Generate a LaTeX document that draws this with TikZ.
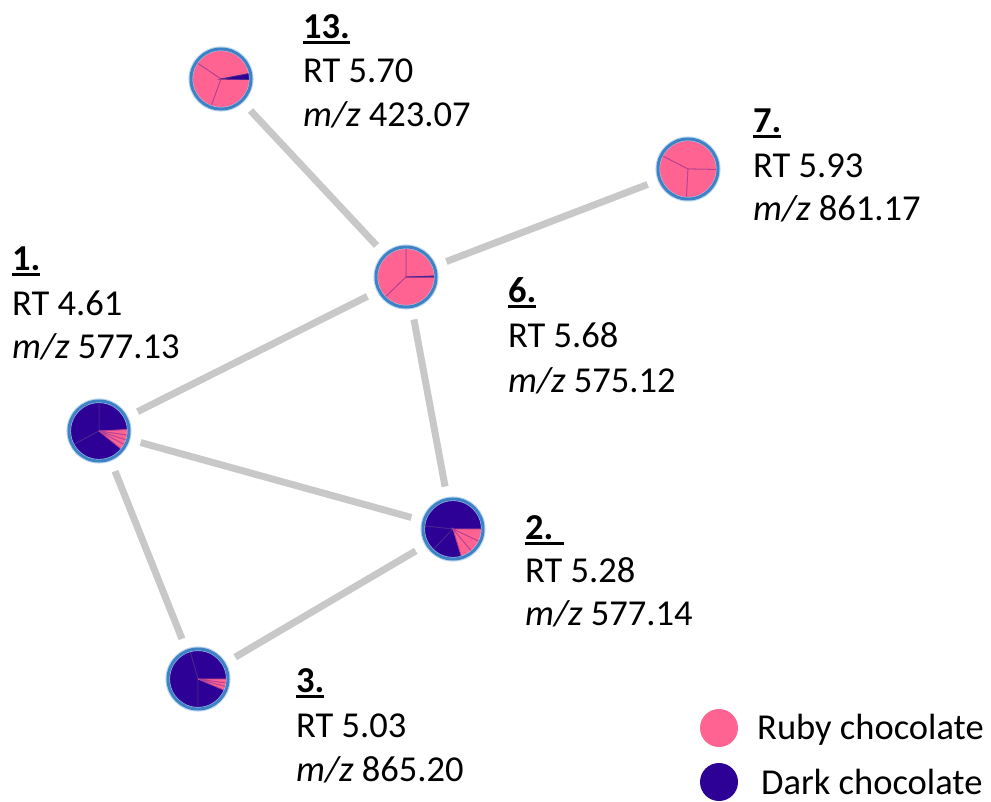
\documentclass[tikz,border=0pt]{standalone}
\usepackage{fontspec}
\setmainfont{Carlito}
\definecolor{ruby}{RGB}{255,99,146}
\definecolor{dark}{RGB}{45,0,150}
\definecolor{rim}{RGB}{62,130,198}
\definecolor{glow}{RGB}{185,212,238}
\definecolor{edgegray}{RGB}{200,200,200}
\newcommand\ulab[1]{\setbox0=\hbox{\textbf{#1}}\rlap{\rule[-6pt]{\wd0}{2.8pt}}\box0}
\newcommand\pieslice[5]{\filldraw[fill=#4, draw=#5, line width=0.8pt] (#1) -- ++(#2:29) arc[start angle=#2, end angle=#3, radius=29] -- cycle;}
\newcommand\pierim[1]{\draw[glow, line width=4.5pt] (#1) circle[radius=30.3];\draw[rim, line width=3pt] (#1) circle[radius=30];}
\begin{document}
\begin{tikzpicture}[x=1pt,y=1pt,
  pienode/.style={circle, minimum size=60pt, inner sep=0pt},
  edge/.style={draw=edgegray, line width=7pt, shorten <=13pt, shorten >=13pt},
  lab/.style={anchor=base west, inner sep=0pt, font=\fontsize{36.5}{44}\selectfont},
  legdot/.style={circle, minimum size=38pt, inner sep=0pt}]
\colorlet{rubyline}{ruby!65!dark}
\colorlet{darkline}{dark!70!gray}
\useasboundingbox (0,0) rectangle (991,-801);
% nodes
\node[pienode] (n13) at (221,-79) {};
\node[pienode] (n6) at (406,-277) {};
\node[pienode] (n7) at (688,-169) {};
\node[pienode] (n1) at (99,-431) {};
\node[pienode] (n2) at (453,-529) {};
\node[pienode] (n3) at (198,-679) {};
% edges
\draw[edge] (n13) -- (n6);
\draw[edge] (n6) -- (n7);
\draw[edge] (n6) -- (n1);
\draw[edge] (n6) -- (n2);
\draw[edge] (n1) -- (n2);
\draw[edge] (n1) -- (n3);
\draw[edge] (n3) -- (n2);
% pie 13
\pieslice{n13.center}{11}{146}{ruby}{rubyline}
\pieslice{n13.center}{146}{250}{ruby}{rubyline}
\pieslice{n13.center}{250}{359}{ruby}{rubyline}
\pieslice{n13.center}{-1}{11}{dark}{darkline}
\pierim{n13.center}
% pie 6
\pieslice{n6.center}{2}{90}{ruby}{rubyline}
\pieslice{n6.center}{90}{224}{ruby}{rubyline}
\pieslice{n6.center}{224}{360}{ruby}{rubyline}
\pieslice{n6.center}{0}{2}{dark}{darkline}
\pierim{n6.center}
% pie 7
\pieslice{n7.center}{-1}{153}{ruby}{rubyline}
\pieslice{n7.center}{153}{267}{ruby}{rubyline}
\pieslice{n7.center}{267}{359}{ruby}{rubyline}
\pierim{n7.center}
% pie 1
\pieslice{n1.center}{3}{90}{dark}{darkline}
\pieslice{n1.center}{90}{208}{dark}{darkline}
\pieslice{n1.center}{208}{321}{dark}{darkline}
\pieslice{n1.center}{321}{332}{ruby}{rubyline}
\pieslice{n1.center}{332}{342}{ruby}{rubyline}
\pieslice{n1.center}{342}{352}{ruby}{rubyline}
\pieslice{n1.center}{352}{363}{ruby}{rubyline}
\pierim{n1.center}
% pie 2
\pieslice{n2.center}{0}{174}{dark}{darkline}
\pieslice{n2.center}{174}{226}{dark}{darkline}
\pieslice{n2.center}{226}{287}{dark}{darkline}
\pieslice{n2.center}{287}{310}{ruby}{rubyline}
\pieslice{n2.center}{310}{335}{ruby}{rubyline}
\pieslice{n2.center}{335}{360}{ruby}{rubyline}
\pierim{n2.center}
% pie 3
\pieslice{n3.center}{0}{106}{dark}{darkline}
\pieslice{n3.center}{106}{270}{dark}{darkline}
\pieslice{n3.center}{270}{337}{dark}{darkline}
\pieslice{n3.center}{337}{345}{ruby}{rubyline}
\pieslice{n3.center}{345}{352}{ruby}{rubyline}
\pieslice{n3.center}{352}{360}{ruby}{rubyline}
\pierim{n3.center}
% labels
\node[lab] (l13a) at (303,-38) {\ulab{13.}};
\node[lab] (l13b) at (303,-82) {RT 5.70};
\node[lab] (l13c) at (303,-126) {\textit{m/z} 423.07};
\node[lab] (l7a) at (753,-132) {\ulab{7.}};
\node[lab] (l7b) at (753,-177) {RT 5.93};
\node[lab] (l7c) at (753,-220) {\textit{m/z} 861.17};
\node[lab] (l1a) at (12,-270) {\ulab{1.}};
\node[lab] (l1b) at (12,-315) {RT 4.61};
\node[lab] (l1c) at (12,-358) {\textit{m/z} 577.13};
\node[lab] (l6a) at (508,-302) {\ulab{6.}};
\node[lab] (l6b) at (508,-347) {RT 5.68};
\node[lab] (l6c) at (508,-392) {\textit{m/z} 575.12};
\node[lab] (l2a) at (525,-539) {\ulab{2. }};
\node[lab] (l2b) at (525,-582) {RT 5.28};
\node[lab] (l2c) at (525,-625) {\textit{m/z} 577.14};
\node[lab] (l3a) at (296,-692) {\ulab{3.}};
\node[lab] (l3b) at (296,-737) {RT 5.03};
\node[lab] (l3c) at (296,-781) {\textit{m/z} 865.20};
% legend
\node[legdot, fill=ruby] (legruby) at (719,-728) {};
\node[legdot, fill=dark] (legdark) at (719,-782) {};
\node[lab] (legrubyt) at (757,-739) {Ruby chocolate};
\node[lab] (legdarkt) at (761,-794) {Dark chocolate};
\end{tikzpicture}
\end{document}
